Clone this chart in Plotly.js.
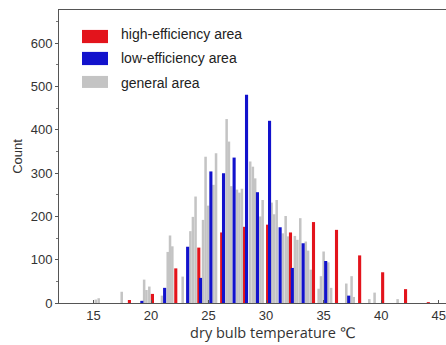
<!DOCTYPE html>
<html>
<head>
<meta charset="utf-8">
<script src="https://cdn.plot.ly/plotly-3.0.1.min.js"></script>
<style>
html,body{margin:0;padding:0;background:#fff;overflow:hidden;width:446px;height:345px;}
#chart{width:497px;height:345px;}
</style>
</head>
<body>
<div id="chart"></div>
<script>
// Series: general area (fine histogram bins)
const generalX = [15.2, 15.45, 17.45, 19.4, 19.6, 19.85, 20.95, 21.45, 21.65, 21.85, 22.75,
  23.42, 23.64, 23.87, 24.52, 24.74, 24.97, 25.43, 25.65, 26.57, 26.77, 26.97,
  27.47, 27.68, 27.9, 28.62, 28.85, 29.05, 29.5, 29.7, 30.48, 30.7, 30.92,
  31.45, 31.7, 31.9, 32.5, 32.72, 32.97, 33.45, 33.65, 33.88, 34.57, 34.77,
  35.0, 35.4, 35.65, 36.97, 37.43, 37.62, 38.97, 39.43, 41.43];
const generalY = [8, 11, 26, 54, 30, 38, 17, 118, 156, 131, 61,
  166, 199, 246, 192, 338, 225, 273, 346, 425, 373, 270,
  262, 255, 264, 327, 315, 288, 200, 238, 232, 205, 238,
  161, 201, 154, 155, 146, 196, 142, 121, 77, 33, 62,
  119, 94, 35, 45, 62, 14, 9, 24, 9];

// Series: high-efficiency area
const highX = [18.12, 20.12, 22.15, 24.15, 26.14, 28.13, 30.13, 32.12, 34.12, 36.12, 38.13, 40.13, 42.12, 44.1];
const highY = [7, 21, 80, 128, 163, 176, 181, 163, 187, 169, 110, 71, 32, 2];

// Series: low-efficiency area
const lowX = [19.2, 21.18, 23.18, 24.3, 25.2, 26.3, 27.22, 28.3, 29.25, 30.3, 31.22, 32.28, 33.22, 35.18, 37.18];
const lowY = [5, 35, 130, 58, 304, 300, 336, 481, 256, 421, 175, 81, 138, 97, 17];

// Legend labels and axis labels
const seriesNames = ["high-efficiency area", "low-efficiency area", "general area"];
const xTitle = "dry bulb temperature ℃";
const yTitle = "Count";

const RED = "#e3141c", BLUE = "#1212cc", GRAY = "#c4c4c4";

const traces = [
  {type: "bar", name: seriesNames[2], x: generalX, y: generalY, width: 0.22,
   marker: {color: GRAY, line: {width: 0}}},
  {type: "bar", name: seriesNames[0], x: highX, y: highY, width: 0.27,
   marker: {color: RED, line: {width: 0}}},
  {type: "bar", name: seriesNames[1], x: lowX, y: lowY, width: 0.27,
   marker: {color: BLUE, line: {width: 0}}}
];

// custom legend (wide swatches like the original); plot area is 428 px wide
const legColors = [RED, BLUE, GRAY];
const swY = [[0.887, 0.932], [0.812, 0.857], [0.734, 0.775]];
const shapes = legColors.map((c, i) => ({
  type: "rect", xref: "paper", yref: "paper",
  x0: 23 / 428, x1: 49 / 428, y0: swY[i][0], y1: swY[i][1],
  fillcolor: c, line: {width: 0}
}));
const textY = [0.918, 0.836, 0.752];
const annotations = seriesNames.map((t, i) => ({
  text: t, xref: "paper", yref: "paper", x: 60 / 428, y: textY[i],
  xanchor: "left", yanchor: "middle", showarrow: false,
  font: {family: "Liberation Sans, Arial, sans-serif", size: 14, color: "#222"}
}));

const layout = {
  width: 497, height: 345,
  margin: {l: 59, r: 10, t: 10, b: 42},
  paper_bgcolor: "#fff", plot_bgcolor: "#fff",
  barmode: "overlay", showlegend: false,
  font: {family: "Liberation Sans, Arial, sans-serif", size: 13, color: "#333"},
  xaxis: {
    range: [12, 49.2], tick0: 0, dtick: 5, showgrid: false, zeroline: false,
    showline: true, linecolor: "#555", linewidth: 1, mirror: true,
    ticks: "inside", ticklen: 3, tickcolor: "#555",
    tickfont: {size: 13, color: "#333"},
    title: {text: xTitle, standoff: 6,
            font: {family: "Open Sans, DejaVu Sans, sans-serif", size: 14.5, color: "#333"}}
  },
  yaxis: {
    range: [0, 677], tick0: 0, dtick: 100, showgrid: false, zeroline: false,
    showline: true, linecolor: "#555", linewidth: 1, mirror: true,
    ticks: "outside", ticklen: 3, tickcolor: "#555",
    minor: {dtick: 50, ticks: "outside", ticklen: 2, tickcolor: "#777"},
    tickfont: {size: 13, color: "#333"},
    title: {text: yTitle, standoff: 5,
            font: {family: "Liberation Sans, Arial, sans-serif", size: 13, color: "#333"}}
  },
  shapes: shapes,
  annotations: annotations
};

Plotly.newPlot("chart", traces, layout, {displayModeBar: false, staticPlot: true});
</script>
</body>
</html>
